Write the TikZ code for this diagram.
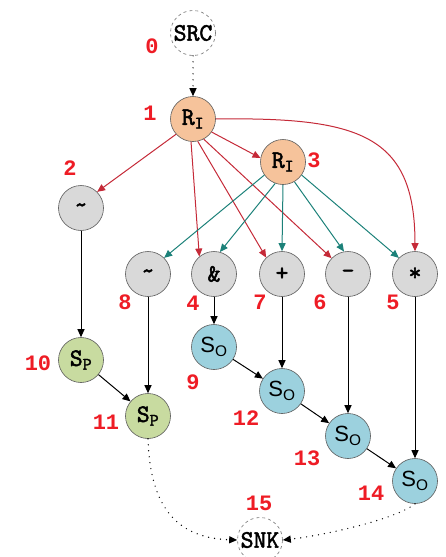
\documentclass[tikz,border=0pt]{standalone}
\usepackage{fontspec}
\setmonofont{Liberation Mono}
\setsansfont{Liberation Sans}
\newfontfamily\nodemono{Latin Modern Mono}[FakeBold=2]
\usetikzlibrary{arrows.meta}
\definecolor{peach}{HTML}{F6C39B}
\definecolor{grayfill}{HTML}{D9D9D9}
\definecolor{greenfill}{HTML}{C8DBA0}
\definecolor{bluefill}{HTML}{9CD1DE}
\definecolor{redE}{HTML}{C52A38}
\definecolor{tealE}{HTML}{1C8179}
\definecolor{lblred}{HTML}{EE1C25}
\begin{document}
\begin{tikzpicture}[x=1pt,y=-1pt,
  nd/.style={circle,draw=black!65,line width=0.6pt,minimum size=45pt,inner sep=0pt,font=\nodemono\fontsize{25}{25}\selectfont},
  term/.style={nd,draw=black!55,dashed,fill=white},
  rnode/.style={nd,fill=peach},
  gnode/.style={nd,fill=grayfill},
  pnode/.style={nd,fill=greenfill},
  onode/.style={nd,fill=bluefill,font=\sffamily\fontsize{22}{22}\selectfont},
  lbl/.style={text=lblred,font=\ttfamily\bfseries\fontsize{22}{22}\selectfont,inner sep=0pt},
  tip/.style={-{Triangle[length=8pt,width=7pt]}},
  redarr/.style={tip,draw=redE,line width=1pt},
  tealarr/.style={tip,draw=tealE,line width=1pt},
  blkarr/.style={tip,draw=black,line width=1pt},
  dotarr/.style={tip,draw=black,line width=1.4pt,line cap=round,dash pattern=on 0pt off 6pt}
]
\path[use as bounding box] (0,0) rectangle (445,557);
\clip (0,0) rectangle (445,557);

% nodes
\node[term] (src) at (193,33) {SRC};
\node[rnode] (r1) at (193,119) {R\textsubscript{I}};
\node[rnode] (r3) at (283,162) {R\textsubscript{I}};
\node[gnode] (n2) at (81,208) {\raisebox{-3pt}{\textasciitilde}};
\node[gnode] (n8) at (148,274) {\raisebox{-3pt}{\textasciitilde}};
\node[gnode] (n4) at (214,274) {\&};
\node[gnode] (n7) at (282,274) {+};
\node[gnode] (n6) at (348,274) {-};
\node[gnode] (n5) at (415,274) {*};
\node[pnode] (n10) at (81,360) {S\textsubscript{P}};
\node[pnode] (n11) at (148,416) {S\textsubscript{P}};
\node[onode] (n9) at (214,347) {S\textsubscript{O}};
\node[onode] (n12) at (282,391) {S\textsubscript{O}};
\node[onode] (n13) at (348,436) {S\textsubscript{O}};
\node[onode] (n14) at (415,481) {S\textsubscript{O}};
\node[term] (snk) at (260,540) {SNK};

% labels
\node[lbl] (l0) at (152,46) {0};
\node[lbl] (l1) at (150,113) {1};
\node[lbl] (l3) at (314,160) {3};
\node[lbl] (l2) at (70,168) {2};
\node[lbl] (l8) at (125,302) {8};
\node[lbl] (l4) at (193,303) {4};
\node[lbl] (l7) at (260,302) {7};
\node[lbl] (l6) at (320,302) {6};
\node[lbl] (l5) at (393,302) {5};
\node[lbl] (l10) at (38,363) {10};
\node[lbl] (l11) at (106,422) {11};
\node[lbl] (l9) at (193,382) {9};
\node[lbl] (l12) at (246,418) {12};
\node[lbl] (l13) at (307,458) {13};
\node[lbl] (l14) at (371,493) {14};
\node[lbl] (l15) at (259,503) {15};

% source edge
\draw[dotarr] (src.south) -- (r1.north);

% red edges from R1
\draw[redarr] (r1.222) -- (n2.45);
\draw[redarr] (r1.325) -- (r3.170);
\draw[redarr] (r1.265) -- (n4.130);
\draw[redarr] (r1.282) -- (n7.134);
\draw[redarr] (r1.298) -- (n6.136);
\draw[redarr] (r1.east) .. controls (360,117) and (415,135) .. (n5.north);

% teal edges from R3
\draw[tealarr] (r3.215) -- (n8.45);
\draw[tealarr] (r3.250) -- (n4.75);
\draw[tealarr] (r3.south) -- (n7.north);
\draw[tealarr] (r3.300) -- (n6.100);
\draw[tealarr] (r3.325) -- (n5.135);

% black edges
\draw[blkarr] (n2) -- (n10);
\draw[blkarr] (n8) -- (n11);
\draw[blkarr] (n10) -- (n11);
\draw[blkarr] (n4) -- (n9);
\draw[blkarr] (n9) -- (n12);
\draw[blkarr] (n7) -- (n12);
\draw[blkarr] (n12) -- (n13);
\draw[blkarr] (n6) -- (n13);
\draw[blkarr] (n13) -- (n14);
\draw[blkarr] (n5) -- (n14);

% sink edges
\draw[dotarr] (n11.south) .. controls (150,505) and (175,538) .. (snk.west);
\draw[dotarr] (n14.south) .. controls (395,520) and (320,536) .. (snk.east);
\end{tikzpicture}
\end{document}
